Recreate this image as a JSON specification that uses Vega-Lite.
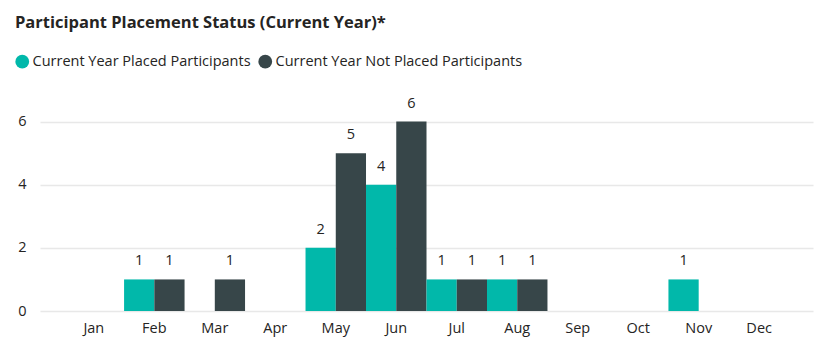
{
  "$schema": "https://vega.github.io/schema/vega-lite/v6.json",
  "autosize": {"type": "none"},
  "width": 773,
  "height": 221,
  "padding": {"left": 40, "top": 90, "right": 18, "bottom": 51},
  "background": "white",
  "title": {
    "text": "Participant Placement Status (Current Year)*",
    "anchor": "start",
    "frame": "group",
    "dx": -25,
    "offset": 23,
    "font": "Open Sans",
    "fontSize": 16.5,
    "fontWeight": "bold",
    "color": "#252423"
  },
  "data": {
    "values": [
      {"month": "Feb", "series": "Current Year Placed Participants", "count": 1},
      {"month": "Feb", "series": "Current Year Not Placed Participants", "count": 1},
      {"month": "Mar", "series": "Current Year Not Placed Participants", "count": 1},
      {"month": "May", "series": "Current Year Placed Participants", "count": 2},
      {"month": "May", "series": "Current Year Not Placed Participants", "count": 5},
      {"month": "Jun", "series": "Current Year Placed Participants", "count": 4},
      {"month": "Jun", "series": "Current Year Not Placed Participants", "count": 6},
      {"month": "Jul", "series": "Current Year Placed Participants", "count": 1},
      {"month": "Jul", "series": "Current Year Not Placed Participants", "count": 1},
      {"month": "Aug", "series": "Current Year Placed Participants", "count": 1},
      {"month": "Aug", "series": "Current Year Not Placed Participants", "count": 1},
      {"month": "Nov", "series": "Current Year Placed Participants", "count": 1}
    ]
  },
  "encoding": {
    "x": {
      "field": "month",
      "type": "nominal",
      "scale": {
        "domain": ["Jan", "Feb", "Mar", "Apr", "May", "Jun", "Jul", "Aug", "Sep", "Oct", "Nov", "Dec"],
        "paddingInner": 0,
        "paddingOuter": 0.39
      },
      "axis": {
        "title": null,
        "labelAngle": 0,
        "domain": false,
        "ticks": false,
        "labelPadding": 10,
        "labelFont": "Open Sans",
        "labelFontSize": 14.5,
        "labelColor": "#252423"
      }
    },
    "xOffset": {
      "field": "series",
      "type": "nominal",
      "scale": {
        "domain": ["Current Year Placed Participants", "Current Year Not Placed Participants"],
        "paddingInner": 0,
        "paddingOuter": 0
      }
    },
    "y": {
      "field": "count",
      "type": "quantitative",
      "scale": {"domain": [0, 7], "nice": false},
      "axis": {
        "title": null,
        "values": [0, 2, 4, 6],
        "domain": false,
        "ticks": false,
        "labelPadding": 14,
        "labelFont": "Open Sans",
        "labelFontSize": 14.5,
        "labelColor": "#252423",
        "gridColor": "#e8e8e8",
        "gridWidth": 1.5
      }
    }
  },
  "layer": [
    {
      "mark": {"type": "bar"},
      "encoding": {
        "color": {
          "field": "series",
          "type": "nominal",
          "scale": {
            "domain": ["Current Year Placed Participants", "Current Year Not Placed Participants"],
            "range": ["#01B8AA", "#374649"]
          },
          "legend": {
            "title": null,
            "orient": "none",
            "direction": "horizontal",
            "legendX": -25,
            "legendY": -36,
            "symbolType": "circle",
            "symbolSize": 190,
            "symbolOpacity": 1,
            "labelFont": "Open Sans",
            "labelFontSize": 14.5,
            "labelColor": "#252423",
            "labelOffset": 3,
            "labelLimit": 0,
            "columnPadding": 7,
            "symbolStrokeWidth": 0
          }
        }
      }
    },
    {
      "mark": {
        "type": "text",
        "baseline": "bottom",
        "dy": -11,
        "font": "Open Sans",
        "fontSize": 14.5,
        "color": "#252423"
      },
      "encoding": {
        "text": {"field": "count", "type": "quantitative"}
      }
    }
  ],
  "config": {
    "view": {"stroke": null}
  }
}
